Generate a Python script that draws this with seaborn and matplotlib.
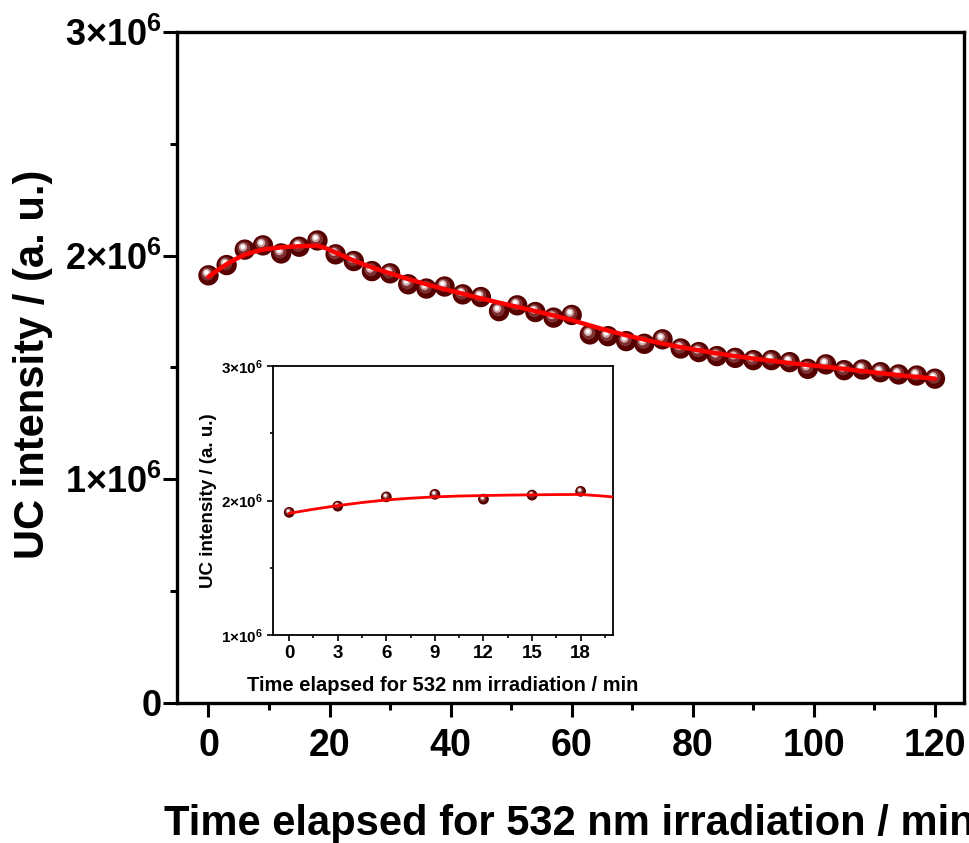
import numpy as np
import pandas as pd
import seaborn as sns
import matplotlib
matplotlib.use("Agg")
import matplotlib.pyplot as plt
import matplotlib.transforms as mtransforms

# ---------------- data ----------------
time_min = [0, 3, 6, 9, 12, 15, 18, 21, 24, 27, 30, 33, 36, 39, 42, 45, 48, 51, 54, 57,
            60, 63, 66, 69, 72, 75, 78, 81, 84, 87, 90, 93, 96, 99, 102, 105, 108, 111, 114, 117, 120]
intensity = [1.912e6, 1.958e6, 2.027e6, 2.046e6, 2.010e6, 2.040e6, 2.068e6, 2.006e6, 1.976e6, 1.931e6,
             1.921e6, 1.872e6, 1.853e6, 1.862e6, 1.827e6, 1.815e6, 1.752e6, 1.778e6, 1.748e6, 1.723e6,
             1.735e6, 1.648e6, 1.640e6, 1.618e6, 1.606e6, 1.626e6, 1.585e6, 1.569e6, 1.551e6, 1.543e6,
             1.533e6, 1.533e6, 1.524e6, 1.494e6, 1.514e6, 1.488e6, 1.491e6, 1.479e6, 1.469e6, 1.464e6,
             1.450e6]

fit_time = [0, 1.5, 3, 4.5, 6, 7.5, 9, 10.5, 12, 13.5, 15, 16.5, 18, 19.5, 21, 24, 27, 30, 33, 36,
            39, 42, 45, 48, 51, 54, 57, 60, 63, 66, 69, 72, 75, 78, 81, 84, 87, 90, 93, 96,
            99, 102, 105, 108, 111, 114, 117, 120]
fit_intensity = [1.905e6, 1.935e6, 1.962e6, 1.985e6, 2.004e6, 2.017e6, 2.027e6, 2.033e6, 2.037e6, 2.040e6,
                 2.042e6, 2.044e6, 2.045e6, 2.032e6, 2.014e6, 1.978e6, 1.947e6, 1.921e6, 1.895e6, 1.872e6,
                 1.850e6, 1.830e6, 1.809e6, 1.790e6, 1.771e6, 1.752e6, 1.733e6, 1.712e6, 1.688e6, 1.665e6,
                 1.644e6, 1.625e6, 1.607e6, 1.591e6, 1.577e6, 1.563e6, 1.551e6, 1.540e6, 1.530e6, 1.520e6,
                 1.511e6, 1.503e6, 1.494e6, 1.484e6, 1.475e6, 1.466e6, 1.458e6, 1.450e6]

main_xticks = [0, 20, 40, 60, 80, 100, 120]
main_yticks = [0, 1e6, 2e6, 3e6]
main_yticklabels = ['0', r'1×10$^{6}$', r'2×10$^{6}$', r'3×10$^{6}$']
inset_n = 7
inset_xticks = [0, 3, 6, 9, 12, 15, 18]
inset_yticks = [1e6, 2e6, 3e6]
inset_yticklabels = [r'1×10$^{6}$', r'2×10$^{6}$', r'3×10$^{6}$']

xlabel = 'Time elapsed for 532 nm irradiation / min'
ylabel = 'UC intensity / (a. u.)'

df = pd.DataFrame({'t': time_min, 'I': intensity})
df_fit = pd.DataFrame({'t': fit_time, 'I': fit_intensity})
df_in = df.iloc[:inset_n]

# ---------------- style ----------------
sns.set_theme(style='ticks')
plt.rcParams['font.family'] = ['Liberation Sans', 'DejaVu Sans']
plt.rcParams['font.weight'] = 'bold'
plt.rcParams['text.color'] = 'black'
plt.rcParams['axes.labelcolor'] = 'black'
plt.rcParams['xtick.color'] = 'black'
plt.rcParams['ytick.color'] = 'black'
plt.rcParams['mathtext.fontset'] = 'custom'
plt.rcParams['mathtext.rm'] = 'Liberation Sans:bold'
plt.rcParams['mathtext.bf'] = 'Liberation Sans:bold'
plt.rcParams['mathtext.it'] = 'Liberation Sans:bold'
plt.rcParams['mathtext.default'] = 'regular'

fig = plt.figure(figsize=(9.69, 8.43), dpi=100)
ax = fig.add_axes([177/969, 1-703/843, (964-177)/969, (703-32)/843])


def sphere_scatter(axis, data, size):
    # layered circles to imitate shaded spheres
    fig_ = axis.figure
    r = size ** 0.5
    sns.scatterplot(data=data, x='t', y='I', ax=axis, s=size, color='#560000',
                    edgecolor='none', linewidth=0, zorder=3, legend=False)
    tr = mtransforms.offset_copy(axis.transData, fig=fig_, x=-r*0.05, y=r*0.07, units='points')
    axis.scatter(data['t'], data['I'], s=size*0.42, color='#7e3030', edgecolor='none',
                 zorder=4, transform=tr)
    tr2 = mtransforms.offset_copy(axis.transData, fig=fig_, x=-r*0.09, y=r*0.12, units='points')
    axis.scatter(data['t'], data['I'], s=size*0.16, color='#cfa9a9', edgecolor='none',
                 zorder=5, transform=tr2)
    tr3 = mtransforms.offset_copy(axis.transData, fig=fig_, x=-r*0.1, y=r*0.14, units='points')
    axis.scatter(data['t'], data['I'], s=size*0.05, color='#ffffff', edgecolor='none',
                 zorder=6, transform=tr3)


sphere_scatter(ax, df, 215)
sns.lineplot(data=df_fit, x='t', y='I', ax=ax, color='#ff0000', linewidth=3.2,
             zorder=7, legend=False)

ax.set_xlim(-5.2, 124.8)
ax.set_ylim(0, 3e6)
ax.set_xticks(main_xticks)
ax.set_xticks(np.arange(10, 130, 20), minor=True)
ax.set_yticks(main_yticks)
ax.set_yticks([0.5e6, 1.5e6, 2.5e6], minor=True)
ax.set_yticklabels(main_yticklabels)
for lab in ax.get_xticklabels():
    lab.set_fontsize(27)
    lab.set_fontweight('bold')
for lab in ax.get_yticklabels():
    lab.set_fontsize(26)
    lab.set_fontweight('bold')
ax.tick_params(axis='both', which='major', direction='out', length=10, width=2.2, pad=8)
ax.tick_params(axis='both', which='minor', direction='out', length=5, width=2.2)
ax.tick_params(axis='y', which='major', pad=1)
for sp in ax.spines.values():
    sp.set_visible(True)
    sp.set_linewidth(2.4)
    sp.set_color('black')
ax.set_xlabel(xlabel, fontsize=30, fontweight='bold')
ax.set_ylabel(ylabel, fontsize=30, fontweight='bold')
ax.xaxis.set_label_coords(0.499, -0.15)
ax.yaxis.set_label_coords(-0.158, 0.505)

# ---------------- inset ----------------
axin = fig.add_axes([273/969, 1-635/843, (613-273)/969, (635-366)/843])
sphere_scatter(axin, df_in, 60)
sns.lineplot(data=df_fit, x='t', y='I', ax=axin, color='#ff0000', linewidth=2.0,
             zorder=7, legend=False)
axin.set_xlim(-1.0, 20.0)
axin.set_ylim(1e6, 3e6)
axin.set_xticks(inset_xticks)
axin.set_xticks(np.arange(1.5, 20, 3), minor=True)
axin.set_yticks(inset_yticks)
axin.set_yticks([1.5e6, 2.5e6], minor=True)
axin.set_yticklabels(inset_yticklabels)
for lab in axin.get_xticklabels():
    lab.set_fontsize(13.5)
    lab.set_fontweight('bold')
for lab in axin.get_yticklabels():
    lab.set_fontsize(11)
    lab.set_fontweight('bold')
axin.tick_params(axis='both', which='major', direction='out', length=4, width=1.2, pad=3)
axin.tick_params(axis='both', which='minor', direction='out', length=2, width=1.2)
for sp in axin.spines.values():
    sp.set_visible(True)
    sp.set_linewidth(1.3)
    sp.set_color('black')
axin.set_xlabel(xlabel, fontsize=14.5, fontweight='bold', labelpad=10)
axin.set_ylabel(ylabel, fontsize=13.5, fontweight='bold', labelpad=3)

fig.savefig('out.png', dpi=100)
